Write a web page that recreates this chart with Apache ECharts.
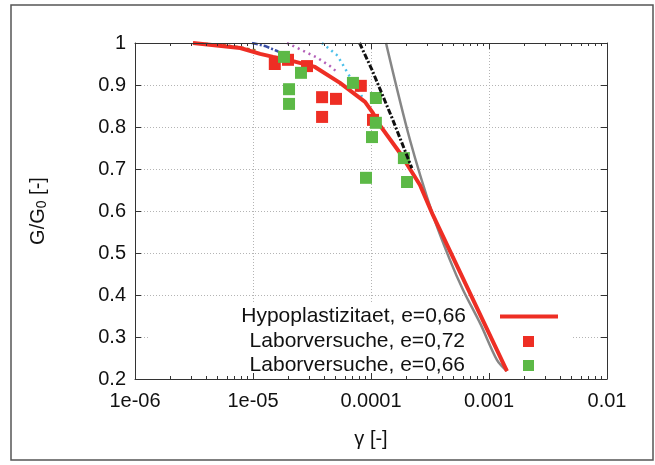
<!DOCTYPE html>
<html>
<head>
<meta charset="utf-8">
<script src="https://cdn.jsdelivr.net/npm/echarts@6/dist/echarts.min.js"></script>
<style>
  html, body { margin: 0; padding: 0; background: #fff; }
  #chart { width: 655px; height: 465px; }
</style>
</head>
<body>
<div id="chart"></div>
<script>
// tick labels
const xTickValues = [1e-6, 1e-5, 1e-4, 1e-3, 1e-2]
const xTickLabels = ['1e-06', '1e-05', '0.0001', '0.001', '0.01']
const yTickLabels = ['0.2', '0.3', '0.4', '0.5', '0.6', '0.7', '0.8', '0.9', '1']

// Hypoplastizitaet, e=0,66
const hypoGamma = [3.1e-6, 7.8e-6, 1.15e-5, 1.48e-5, 2.18e-5, 3.35e-5, 5.46e-5, 8.9e-5, 1.04e-4, 1.15e-4, 1.76e-4, 2.6e-4, 3.35e-4, 1.42e-3]
const hypoG = [1.0, 0.988, 0.974, 0.967, 0.957, 0.943, 0.905, 0.86, 0.833, 0.81, 0.738, 0.662, 0.59, 0.219]

// Laborversuche, e=0,72
const lab72Gamma = [1.53e-5, 1.98e-5, 2.87e-5, 3.85e-5, 5.05e-5, 3.85e-5, 8.2e-5, 1.04e-4]
const lab72G = [0.95, 0.96, 0.945, 0.871, 0.867, 0.824, 0.898, 0.817]

// Laborversuche, e=0,66
const lab66Gamma = [1.83e-5, 2.55e-5, 2.02e-5, 2.02e-5, 7.03e-5, 1.1e-4, 1.1e-4, 1.02e-4, 1.9e-4, 9.07e-5, 2.02e-4]
const lab66G = [0.967, 0.929, 0.89, 0.855, 0.905, 0.869, 0.81, 0.776, 0.726, 0.679, 0.669]

// other curves
const grayGamma = [1.34e-4, 2.14e-4, 3.35e-4, 4.67e-4, 6.03e-4, 8.5e-4, 1.17e-3, 1.42e-3]
const grayG = [1.0, 0.769, 0.59, 0.483, 0.412, 0.33, 0.245, 0.219]
const blackGamma = [8.0e-5, 1.02e-4, 1.51e-4, 2.22e-4]
const blackG = [1.0, 0.936, 0.821, 0.702]
const cyanGamma = [3.84e-5, 5.2e-5, 6.3e-5, 7.3e-5, 8.5e-5]
const cyanG = [1.0, 0.97, 0.93, 0.9, 0.87]
const purpleGamma = [1.94e-5, 2.5e-5, 3.5e-5, 4.5e-5, 5.2e-5]
const purpleG = [1.0, 0.985, 0.965, 0.945, 0.93]
const blueGamma = [9.8e-6, 1.26e-5, 1.6e-5, 1.94e-5]
const blueG = [1.0, 0.993, 0.981, 0.967]
const oliveGamma = [3.1e-6, 5.5e-6, 7.8e-6, 1.1e-5]
const oliveG = [1.0, 0.996, 0.99, 0.982]

const pairs = (xs, ys) => xs.map((x, i) => [x, ys[i]])

const minorTicks = []
xTickValues.slice(0, -1).forEach(d => {
  for (let m = 2; m <= 9; m++) minorTicks.push(m * d)
})

const font = 'Liberation Sans, Arial, sans-serif'
const RED = '#ee2e24'
const GREEN = '#5cb946'

const chart = echarts.init(document.getElementById('chart'))

const baseX = {
  type: 'log', logBase: 10, min: 1e-6, max: 1e-2, gridIndex: 0,
  axisLine: { show: false }, axisTick: { show: false },
  axisLabel: { show: false }, splitLine: { show: false }
}
const baseY = {
  type: 'value', min: 0.2, max: 1, interval: 0.1, gridIndex: 0,
  axisLine: { show: false }, axisTick: { show: false },
  axisLabel: { show: false }, splitLine: { show: false }
}
const gridLine = { show: true, lineStyle: { color: '#b4b4b4', type: [1, 2], width: 1 } }
const frame = { show: true, onZero: false, lineStyle: { color: '#333', width: 1 } }
const legendText = pad => ({ fontSize: 21, color: '#111', fontFamily: font, padding: [0, pad, 0, 0] })

const option = {
  animation: false,
  backgroundColor: '#fff',
  grid: { left: 135, right: 48, top: 43, bottom: 86 },
  graphic: [
    { type: 'rect', z: 0, shape: { x: 11, y: 5, width: 642, height: 455 },
      style: { fill: 'none', stroke: '#555', lineWidth: 1.5 } },
    { type: 'rect', z: 1, shape: { x: 150, y: 303, width: 422, height: 74 },
      style: { fill: '#fff' } }
  ],
  xAxis: [
    Object.assign({}, baseX, {
      position: 'bottom', z: 5,
      axisLine: frame,
      axisTick: { show: true, inside: true, length: 6, lineStyle: { color: '#333' } },
      axisLabel: {
        show: true, margin: 12, fontSize: 20, color: '#111', fontFamily: font,
        formatter: v => xTickLabels[Math.round(Math.log10(v)) + 6]
      },
      name: 'γ [-]', nameLocation: 'middle', nameGap: 50,
      nameTextStyle: { fontSize: 20, color: '#111', fontFamily: font }
    }),
    Object.assign({}, baseX, {
      position: 'bottom', z: 5,
      axisTick: { show: true, inside: true, length: 3, customValues: minorTicks, lineStyle: { color: '#333' } }
    }),
    Object.assign({}, baseX, {
      position: 'top', z: 5,
      axisLine: frame,
      axisTick: { show: true, inside: true, length: 6, lineStyle: { color: '#333' } }
    }),
    Object.assign({}, baseX, {
      position: 'top', z: 5,
      axisTick: { show: true, inside: true, length: 3, customValues: minorTicks, lineStyle: { color: '#333' } }
    }),
    Object.assign({}, baseX, { position: 'bottom', z: 0, splitLine: gridLine })
  ],
  yAxis: [
    Object.assign({}, baseY, {
      position: 'left', z: 5,
      axisLine: frame,
      axisTick: { show: true, inside: true, length: 6, lineStyle: { color: '#333' } },
      axisLabel: {
        show: true, margin: 9, fontSize: 20, color: '#111', fontFamily: font,
        formatter: v => yTickLabels[Math.round((v - 0.2) * 10)]
      },
      name: 'G/G{sub|0} [-]', nameLocation: 'middle', nameGap: 86, nameRotate: 90,
      nameTextStyle: {
        fontSize: 20, color: '#111', fontFamily: font,
        rich: { sub: { fontSize: 14, fontFamily: font, color: '#111', verticalAlign: 'bottom', padding: [7, 0, 0, 0] } }
      }
    }),
    Object.assign({}, baseY, {
      position: 'right', z: 5,
      axisLine: frame,
      axisTick: { show: true, inside: true, length: 6, lineStyle: { color: '#333' } }
    }),
    Object.assign({}, baseY, { position: 'left', z: 0, splitLine: gridLine })
  ],
  legend: [
    {
      data: ['Hypoplastizitaet, e=0,66'], right: 97, top: 306, align: 'right',
      icon: 'rect', symbolKeepAspect: false,
      itemWidth: 58, itemHeight: 4, z: 6, padding: 0,
      textStyle: legendText(29)
    },
    {
      data: ['Laborversuche, e=0,72'], right: 121, top: 331, align: 'right',
      icon: 'rect', itemWidth: 11, itemHeight: 11, z: 6, padding: 0,
      textStyle: legendText(53)
    },
    {
      data: ['Laborversuche, e=0,66'], right: 121, top: 355, align: 'right',
      icon: 'rect', itemWidth: 11, itemHeight: 11, z: 6, padding: 0,
      textStyle: legendText(53)
    }
  ],
  series: [
    {
      name: 'olive', type: 'line', showSymbol: false, symbol: 'none', z: 2,
      data: pairs(oliveGamma, oliveG),
      lineStyle: { color: '#8a7a2c', width: 2, type: [3, 3] }
    },
    {
      name: 'Hypoplastizitaet, e=0,66', type: 'line', showSymbol: false, symbol: 'none', z: 3,
      data: pairs(hypoGamma, hypoG), itemStyle: { color: RED },
      lineStyle: { color: RED, width: 4 }
    },
    {
      name: 'gray', type: 'line', showSymbol: false, symbol: 'none', z: 2, smooth: 0.3,
      data: pairs(grayGamma, grayG),
      lineStyle: { color: '#868686', width: 2.5 }
    },
    {
      name: 'black', type: 'line', showSymbol: false, symbol: 'none', z: 4,
      data: pairs(blackGamma, blackG),
      lineStyle: { color: '#111', width: 3, type: [6, 2, 2, 2] }
    },
    {
      name: 'cyan', type: 'line', showSymbol: false, symbol: 'none', z: 2,
      data: pairs(cyanGamma, cyanG),
      lineStyle: { color: '#4cc0ea', width: 2.5, type: [2, 4] }
    },
    {
      name: 'purple', type: 'line', showSymbol: false, symbol: 'none', z: 2,
      data: pairs(purpleGamma, purpleG),
      lineStyle: { color: '#b45fb8', width: 2.5, type: [2, 4] }
    },
    {
      name: 'blue', type: 'line', showSymbol: false, symbol: 'none', z: 2,
      data: pairs(blueGamma, blueG),
      lineStyle: { color: '#3a4fa6', width: 2.5, type: [6, 2, 2, 2] }
    },
    {
      name: 'Laborversuche, e=0,72', type: 'scatter', symbol: 'rect', symbolSize: 12, z: 3,
      data: pairs(lab72Gamma, lab72G), itemStyle: { color: RED, opacity: 1 }
    },
    {
      name: 'Laborversuche, e=0,66', type: 'scatter', symbol: 'rect', symbolSize: 12, z: 3,
      data: pairs(lab66Gamma, lab66G), itemStyle: { color: GREEN, opacity: 1 }
    }
  ]
}
chart.setOption(option)
</script>
</body>
</html>
